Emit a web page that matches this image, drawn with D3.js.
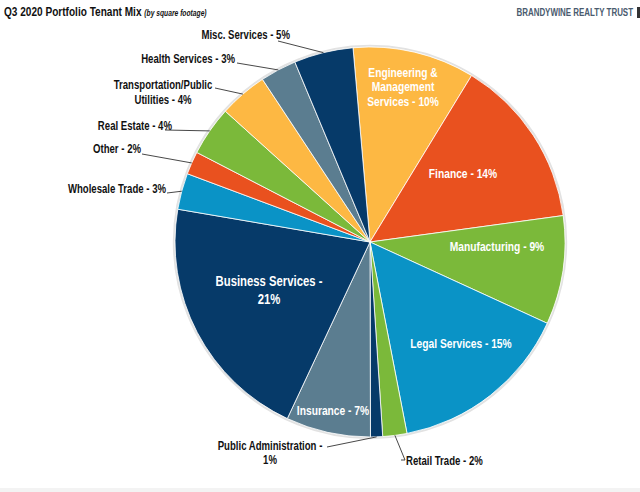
<!DOCTYPE html>
<html><head><meta charset="utf-8">
<script src="https://cdn.jsdelivr.net/npm/d3@7"></script>
<style>
html,body{margin:0;padding:0;background:#fff;}
svg{display:block;}
text{font-family:"Liberation Sans",Arial,sans-serif;font-weight:bold;}
</style></head>
<body>
<svg id="chart" width="640" height="492"></svg>
<script>
// ---- data ----
const categories = ["Engineering & Management Services","Finance","Manufacturing","Legal Services","Retail Trade","Public Administration","Insurance","Business Services","Wholesale Trade","Other","Real Estate","Transportation/Public Utilities","Health Services","Misc. Services"];
const shares = [10.1,14.1,9.0,15.1,2.0,1.0,7.0,20.7,3.0,1.9,4.1,4.0,3.0,4.9];
const labelText = [
  ["Engineering &","Management","Services - 10%"],
  ["Finance - 14%"],
  ["Manufacturing - 9%"],
  ["Legal Services - 15%"],
  ["Retail Trade - 2%"],
  ["Public Administration -","1%"],
  ["Insurance - 7%"],
  ["Business Services -","21%"],
  ["Wholesale Trade - 3%"],
  ["Other - 2%"],
  ["Real Estate - 4%"],
  ["Transportation/Public","Utilities - 4%"],
  ["Health Services - 3%"],
  ["Misc. Services - 5%"]
];
const colors = ["#fdb843","#e9511f","#7bb93a","#0a93c6","#7bb93a","#063a69","#5b7d90","#063a69","#0a93c6","#e9511f","#7bb93a","#fdb843","#5b7d90","#063a69"];

// ---- layout (label placement) ----
const labelLayout = [
  {inside:true, x:403, y:77, fs:12.5, lh:14.5},
  {inside:true, x:463, y:178, fs:12.5},
  {inside:true, x:497, y:251, fs:12.5},
  {inside:true, x:461, y:348, fs:12.5},
  {inside:false, tx:406, ty:465, anchor:"start", path:[[401,460],[405,460]]},
  {inside:false, tx:270, ty:450, anchor:"middle", lh:14, path:[[327,447]]},
  {inside:true, x:333, y:415, fs:12.5},
  {inside:true, x:269, y:286, fs:13.8, lh:18},
  {inside:false, tx:166, ty:193, anchor:"end", path:[[167,193]]},
  {inside:false, tx:141, ty:153, anchor:"end", path:[[142,154]]},
  {inside:false, tx:172, ty:130, anchor:"end", path:[[165,130]]},
  {inside:false, tx:163, ty:89, anchor:"middle", lh:15, path:[[215,88]]},
  {inside:false, tx:235, ty:63, anchor:"end", path:[[237,63]]},
  {inside:false, tx:290, ty:39, anchor:"end", path:[[278,41]]}
];

const SX = 0.82; // condensed look
const svg = d3.select("#chart");
const cx = 370, cy = 242, R = 195;

function ctext(x, y, lines, o) {
  const sx = o.sx || SX;
  const t = svg.append("text")
    .attr("transform", `translate(${x},${y}) scale(${sx},1)`)
    .attr("text-anchor", o.anchor || "start")
    .attr("fill", o.fill || "#111")
    .style("font-size", o.fs + "px");
  lines.forEach((s, k) => t.append("tspan").attr("x", 0).attr("y", k * (o.lh || 14)).text(s));
  return t;
}

// title
const title = ctext(4, 16, [""], {fs:12.3});
title.select("tspan").text("Q3 2020 Portfolio Tenant Mix ");
title.append("tspan").text("(by square footage)").style("font-size","8.2px").style("font-style","italic");

ctext(633, 16, ["BRANDYWINE REALTY TRUST"], {fs:10.2, sx:0.78, anchor:"end", fill:"#4a5b6e"});
svg.append("rect").attr("x",637).attr("y",7).attr("width",3).attr("height",11).attr("fill","#333");

// bottom band
svg.append("rect").attr("x",0).attr("y",488).attr("width",640).attr("height",4).attr("fill","#f3f3f3");

const g = svg.append("g").attr("transform",`translate(${cx},${cy})`);

const pie = d3.pie().sort(null).value(d=>d).startAngle(-5*Math.PI/180).endAngle(355*Math.PI/180);
const arcs = pie(shares);
const arc = d3.arc().innerRadius(0).outerRadius(R);

// soft edge shadow
g.append("circle").attr("r",R+1.2).attr("fill","none").attr("stroke","#e2e2e2").attr("stroke-width",2);

g.selectAll("path.slice").data(arcs).enter().append("path")
  .attr("class","slice").attr("d",arc).attr("fill",(d,i)=>colors[i])
  .attr("stroke","#fff").attr("stroke-width",0.8).attr("stroke-linejoin","round");

// labels
arcs.forEach((d,i)=>{
  const L = labelLayout[i], lines = labelText[i];
  if (L.inside) {
    ctext(L.x, L.y, lines, {fs:L.fs, lh:L.lh || 14, anchor:"middle", fill:"#fff"});
  } else {
    const mid = (d.startAngle + d.endAngle)/2;
    const ex = cx + R*Math.sin(mid), ey = cy - R*Math.cos(mid);
    const pts = [[ex,ey]].concat(L.path.slice().reverse());
    svg.append("path").attr("d", d3.line()(pts)).attr("fill","none").attr("stroke","#333").attr("stroke-width",0.9);
    ctext(L.tx, L.ty, lines, {fs:12, sx:0.8, lh:L.lh || 13, anchor:L.anchor});
  }
});
</script>
</body></html>
